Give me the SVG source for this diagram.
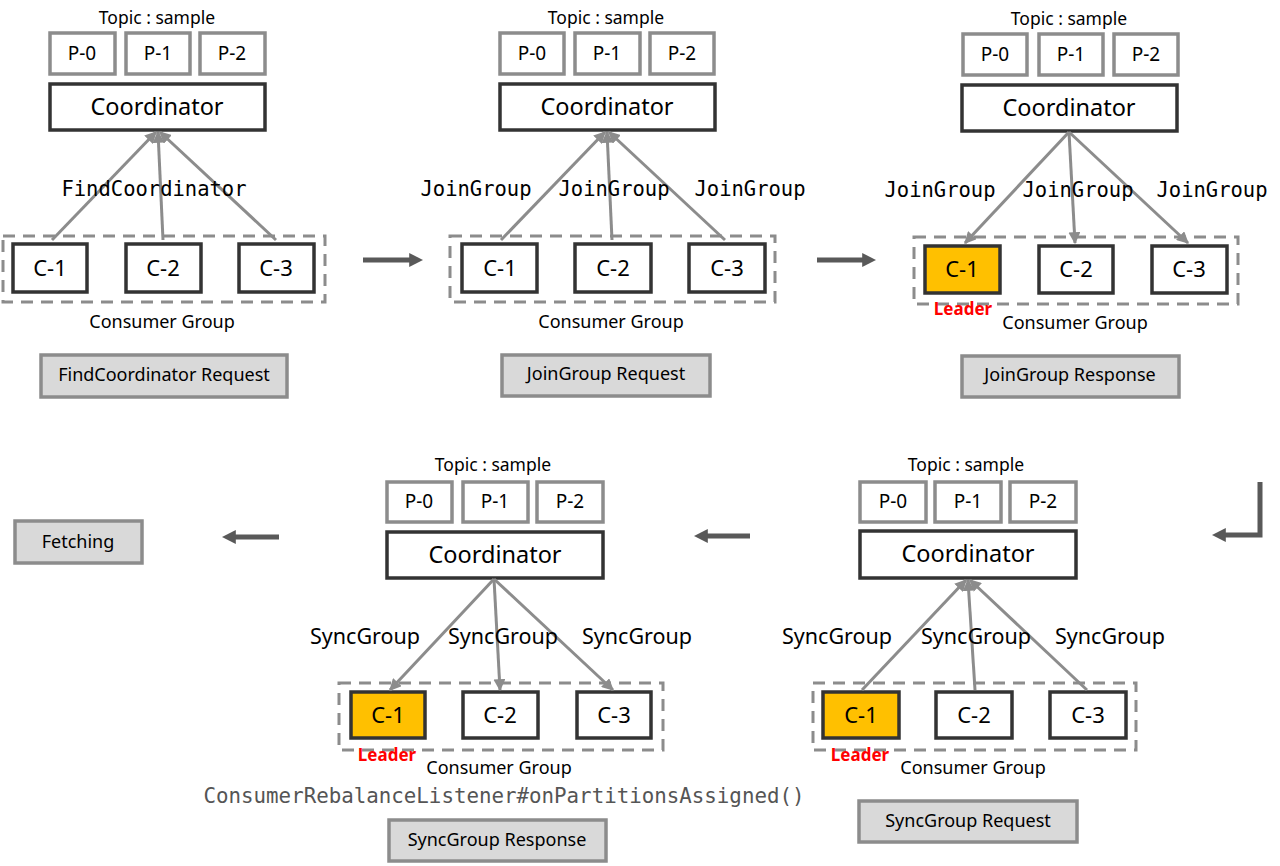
<svg xmlns="http://www.w3.org/2000/svg" width="1280" height="866" viewBox="0 0 1280 866">
<defs>
<style>
.t{font-family:"Noto Sans","Liberation Sans",sans-serif;fill:#000;text-anchor:middle}
.tp{font-size:17.5px}
.pl{font-size:19px}
.co{font-size:23.5px}
.cl{font-size:22px}
.cg{font-size:18px}
.bt{font-size:18px}
.sg{font-size:21.5px}
.mono{font-family:"DejaVu Sans Mono","Liberation Mono",monospace;fill:#000;text-anchor:middle;font-size:20.5px}
.pb{fill:#fff;stroke:#8c8c8c;stroke-width:3.5}
.cb{fill:#fff;stroke:#333;stroke-width:3.5}
.lead{fill:#ffc000}
.grp{fill:none;stroke:#8c8c8c;stroke-width:3;stroke-dasharray:12 8}
.btn{fill:#d9d9d9;stroke:#8c8c8c;stroke-width:3.5}
.cn{stroke:#8c8c8c;stroke-width:3;fill:none;marker-end:url(#ah)}
.big{stroke:#595959;stroke-width:5;fill:none;marker-end:url(#bh)}
.ldr{font-family:"Noto Sans","Liberation Sans",sans-serif;font-weight:bold;fill:#ff0000;font-size:17px;text-anchor:middle}
</style>
<marker id="ah" viewBox="0 0 10 10" refX="9" refY="5" markerWidth="12" markerHeight="12" markerUnits="userSpaceOnUse" orient="auto">
<path d="M0,0 L10,5 L0,10 z" fill="#8c8c8c"/>
</marker>
<marker id="bh" viewBox="0 0 10 10" refX="2" refY="5" markerWidth="14" markerHeight="14" markerUnits="userSpaceOnUse" orient="auto">
<path d="M0,0 L10,5 L0,10 z" fill="#595959"/>
</marker>
</defs>
<rect width="1280" height="866" fill="#fff"/>

<!-- Panel 1 -->
<g id="panel1">
<text class="t tp" x="157" y="24">Topic : sample</text>
<g id="p1-P0"><rect class="pb" x="50" y="33" width="65" height="41"/><text class="t pl" x="82" y="60">P-0</text></g>
<g id="p1-P1"><rect class="pb" x="126" y="33" width="64" height="41"/><text class="t pl" x="158" y="60">P-1</text></g>
<g id="p1-P2"><rect class="pb" x="200" y="33" width="65" height="41"/><text class="t pl" x="232" y="60">P-2</text></g>
<g id="p1-coord"><rect class="cb" x="50" y="84" width="215" height="46"/><text class="t co" x="157" y="115">Coordinator</text></g>
<rect class="grp" x="3" y="236" width="322" height="66"/>
<g id="p1-C1"><rect class="cb" x="13" y="244" width="74" height="48"/><text class="t cl" x="50" y="276">C-1</text></g>
<g id="p1-C2"><rect class="cb" x="126" y="244" width="75" height="48"/><text class="t cl" x="163" y="276">C-2</text></g>
<g id="p1-C3"><rect class="cb" x="239" y="244" width="75" height="48"/><text class="t cl" x="276" y="276">C-3</text></g>
<text class="t cg" x="162" y="328">Consumer Group</text>
<g id="p1-btn"><rect class="btn" x="41" y="355" width="246" height="42"/><text class="t bt" x="164" y="381">FindCoordinator Request</text></g>
</g>

<!-- Panel 2 -->
<g id="panel2">
<text class="t tp" x="606" y="24">Topic : sample</text>
<g id="p2-P0"><rect class="pb" x="500" y="33" width="64" height="41"/><text class="t pl" x="532" y="60">P-0</text></g>
<g id="p2-P1"><rect class="pb" x="575" y="33" width="65" height="41"/><text class="t pl" x="607" y="60">P-1</text></g>
<g id="p2-P2"><rect class="pb" x="650" y="33" width="64" height="41"/><text class="t pl" x="682" y="60">P-2</text></g>
<g id="p2-coord"><rect class="cb" x="500" y="84" width="215" height="46"/><text class="t co" x="607" y="115">Coordinator</text></g>
<rect class="grp" x="450" y="236" width="325" height="66"/>
<g id="p2-C1"><rect class="cb" x="462" y="244" width="75" height="48"/><text class="t cl" x="500" y="276">C-1</text></g>
<g id="p2-C2"><rect class="cb" x="575" y="244" width="76" height="48"/><text class="t cl" x="613" y="276">C-2</text></g>
<g id="p2-C3"><rect class="cb" x="689" y="244" width="76" height="48"/><text class="t cl" x="727" y="276">C-3</text></g>
<text class="t cg" x="611" y="328">Consumer Group</text>
<g id="p2-btn"><rect class="btn" x="502" y="355" width="208" height="41"/><text class="t bt" x="606" y="380">JoinGroup Request</text></g>
</g>

<!-- Panel 3 -->
<g id="panel3">
<text class="t tp" x="1069" y="25">Topic : sample</text>
<g id="p3-P0"><rect class="pb" x="963" y="34" width="64" height="41"/><text class="t pl" x="995" y="61">P-0</text></g>
<g id="p3-P1"><rect class="pb" x="1039" y="34" width="64" height="41"/><text class="t pl" x="1071" y="61">P-1</text></g>
<g id="p3-P2"><rect class="pb" x="1114" y="34" width="64" height="41"/><text class="t pl" x="1146" y="61">P-2</text></g>
<g id="p3-coord"><rect class="cb" x="962" y="85" width="215" height="46"/><text class="t co" x="1069" y="116">Coordinator</text></g>
<rect class="grp" x="914" y="237" width="324" height="67"/>
<g id="p3-C1"><rect class="cb lead" x="925" y="246" width="75" height="47"/><text class="t cl" x="962" y="277">C-1</text></g>
<g id="p3-C2"><rect class="cb" x="1039" y="246" width="74" height="47"/><text class="t cl" x="1076" y="277">C-2</text></g>
<g id="p3-C3"><rect class="cb" x="1152" y="246" width="75" height="47"/><text class="t cl" x="1189" y="277">C-3</text></g>
<text class="ldr" x="963" y="315">Leader</text>
<text class="t cg" x="1075" y="329">Consumer Group</text>
<g id="p3-btn"><rect class="btn" x="962" y="356" width="217" height="41"/><text class="t bt" x="1070" y="381">JoinGroup Response</text></g>
</g>

<!-- Panel 4 (SyncGroup Response) -->
<g id="panel4">
<text class="t tp" x="493" y="471">Topic : sample</text>
<g id="p4-P0"><rect class="pb" x="387" y="482" width="65" height="40"/><text class="t pl" x="419" y="508">P-0</text></g>
<g id="p4-P1"><rect class="pb" x="463" y="482" width="65" height="40"/><text class="t pl" x="495" y="508">P-1</text></g>
<g id="p4-P2"><rect class="pb" x="537" y="482" width="66" height="40"/><text class="t pl" x="570" y="508">P-2</text></g>
<g id="p4-coord"><rect class="cb" x="387" y="532" width="216" height="46"/><text class="t co" x="495" y="563">Coordinator</text></g>
<rect class="grp" x="339" y="683" width="324" height="67"/>
<g id="p4-C1"><rect class="cb lead" x="351" y="692" width="74" height="46"/><text class="t cl" x="388" y="723">C-1</text></g>
<g id="p4-C2"><rect class="cb" x="463" y="692" width="75" height="46"/><text class="t cl" x="500" y="723">C-2</text></g>
<g id="p4-C3"><rect class="cb" x="577" y="692" width="74" height="46"/><text class="t cl" x="614" y="723">C-3</text></g>
<text class="ldr" x="387" y="761">Leader</text>
<text class="t cg" x="499" y="774">Consumer Group</text>
<text x="504" y="803" font-family="DejaVu Sans Mono,Liberation Mono,monospace" font-size="20.8" fill="#555" text-anchor="middle">ConsumerRebalanceListener#onPartitionsAssigned()</text>
<g id="p4-btn"><rect class="btn" x="389" y="820" width="217" height="41"/><text class="t bt" x="497" y="846">SyncGroup Response</text></g>
</g>

<!-- Panel 5 (SyncGroup Request) -->
<g id="panel5">
<text class="t tp" x="966" y="471">Topic : sample</text>
<g id="p5-P0"><rect class="pb" x="860" y="482" width="66" height="40"/><text class="t pl" x="893" y="508">P-0</text></g>
<g id="p5-P1"><rect class="pb" x="935" y="482" width="66" height="40"/><text class="t pl" x="968" y="508">P-1</text></g>
<g id="p5-P2"><rect class="pb" x="1010" y="482" width="66" height="40"/><text class="t pl" x="1043" y="508">P-2</text></g>
<g id="p5-coord"><rect class="cb" x="860" y="531" width="216" height="47"/><text class="t co" x="968" y="562">Coordinator</text></g>
<rect class="grp" x="813" y="683" width="323" height="67"/>
<g id="p5-C1"><rect class="cb lead" x="823" y="692" width="76" height="46"/><text class="t cl" x="861" y="723">C-1</text></g>
<g id="p5-C2"><rect class="cb" x="936" y="692" width="76" height="46"/><text class="t cl" x="974" y="723">C-2</text></g>
<g id="p5-C3"><rect class="cb" x="1050" y="692" width="76" height="46"/><text class="t cl" x="1088" y="723">C-3</text></g>
<text class="ldr" x="860" y="761">Leader</text>
<text class="t cg" x="973" y="774">Consumer Group</text>
<g id="p5-btn"><rect class="btn" x="859" y="801" width="218" height="41"/><text class="t bt" x="968" y="827">SyncGroup Request</text></g>
</g>

<g id="fetching"><rect class="btn" x="15" y="521" width="127" height="42"/><text class="t bt" x="78" y="548">Fetching</text></g>

<!-- Connectors -->
<g id="connectors">
<line class="cn" x1="52" y1="240" x2="156" y2="132"/>
<line class="cn" x1="163" y1="240" x2="158" y2="132"/>
<line class="cn" x1="276" y1="240" x2="160" y2="132"/>
<line class="cn" x1="501" y1="240" x2="605" y2="132"/>
<line class="cn" x1="612" y1="240" x2="607" y2="132"/>
<line class="cn" x1="725" y1="240" x2="609" y2="132"/>
<line class="cn" x1="1069" y1="132" x2="965" y2="243"/>
<line class="cn" x1="1069" y1="132" x2="1075" y2="243"/>
<line class="cn" x1="1069" y1="132" x2="1188" y2="243"/>
<line class="cn" x1="494" y1="579" x2="390" y2="690"/>
<line class="cn" x1="494" y1="579" x2="500" y2="690"/>
<line class="cn" x1="494" y1="579" x2="613" y2="690"/>
<line class="cn" x1="862" y1="690" x2="966" y2="580"/>
<line class="cn" x1="975" y1="690" x2="968" y2="580"/>
<line class="cn" x1="1087" y1="690" x2="970" y2="580"/>
<path class="big" d="M363,260 H412"/>
<path class="big" d="M817,260 H865"/>
<path class="big" d="M750,536 H705"/>
<path class="big" d="M279,537 H233"/>
<path class="big" d="M1260,482 V535 H1223"/>
</g>

<!-- Connector labels -->
<g id="labels">
<text class="mono" x="154" y="196">FindCoordinator</text>
<text class="mono" x="476" y="196">JoinGroup</text>
<text class="mono" x="614" y="196">JoinGroup</text>
<text class="mono" x="750" y="196">JoinGroup</text>
<text class="mono" x="940" y="197">JoinGroup</text>
<text class="mono" x="1078" y="197">JoinGroup</text>
<text class="mono" x="1212" y="197">JoinGroup</text>
<text class="t sg" x="365" y="644">SyncGroup</text>
<text class="t sg" x="503" y="644">SyncGroup</text>
<text class="t sg" x="637" y="644">SyncGroup</text>
<text class="t sg" x="837" y="644">SyncGroup</text>
<text class="t sg" x="976" y="644">SyncGroup</text>
<text class="t sg" x="1110" y="644">SyncGroup</text>
</g>
</svg>
